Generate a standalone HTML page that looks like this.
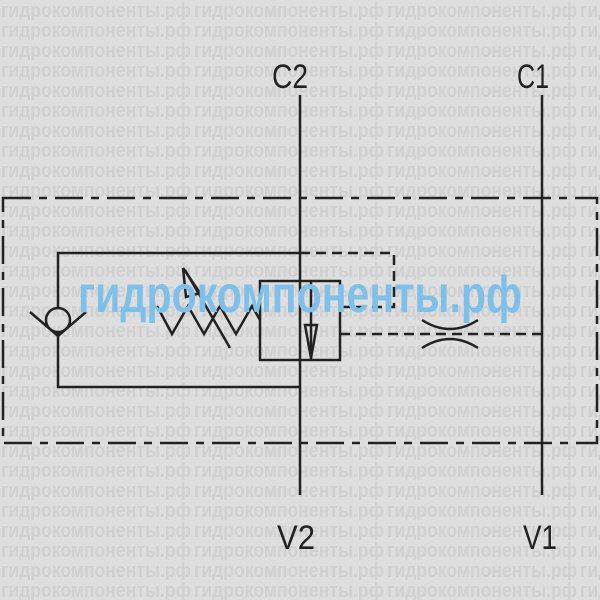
<!DOCTYPE html>
<html><head><style>body{margin:0;background:#dedede}svg{display:block}</style></head><body>
<svg width="600" height="600" viewBox="0 0 600 600" xmlns="http://www.w3.org/2000/svg" font-family="Liberation Sans, sans-serif">
<defs>
<pattern id="wm" x="0" y="0" width="193" height="20" patternUnits="userSpaceOnUse">
<rect width="193" height="20" fill="#dedede"/>
<text x="1" y="17" fill="#d0d0d0" font-weight="bold" font-size="20" textLength="190" lengthAdjust="spacingAndGlyphs">гидрокомпоненты.рф</text>
</pattern>
</defs>
<rect width="600" height="600" fill="url(#wm)"/>
<g stroke="#222" stroke-width="2.5" fill="none">
<rect x="3" y="198" width="594" height="245" stroke-dasharray="28,8,8,8"/>
<line x1="300" y1="95" x2="300" y2="495"/>
<line x1="542" y1="95" x2="542" y2="495"/>
<polyline points="300,253 58,253 58,308"/>
<polyline points="58,333 58,387 300,387"/>
<circle cx="58" cy="320" r="12"/>
<polyline points="30,312 58,336 86,312"/>
<rect x="260" y="281" width="80" height="79"/>
<line x1="311" y1="281" x2="311" y2="360"/>
<polygon points="305,325 317,325 311,358"/>
<polyline points="157,306 172,334 188,306 204,334 220,306 236,334 252,306 260,320"/>
<line x1="230" y1="348" x2="185" y2="270"/>
<polyline points="183,268 186,297 200,293 183,268"/>
<polyline points="300,253 394,253 394,307 340,307" stroke-dasharray="10,6"/>
<line x1="340" y1="334" x2="542" y2="334" stroke-dasharray="10,6"/>
<path d="M422,320 Q450,338 478,320"/>
<path d="M422,348 Q450,330 478,348"/>
</g>
<text x="300" y="312" text-anchor="middle" fill="#7fc0ea" font-weight="bold" font-size="52" textLength="444" lengthAdjust="spacingAndGlyphs">гидрокомпоненты.рф</text>
<g fill="#222" font-size="34" text-anchor="middle">
<text x="290" y="88" textLength="36" lengthAdjust="spacingAndGlyphs">C2</text>
<text x="533" y="88" textLength="32" lengthAdjust="spacingAndGlyphs">C1</text>
<text x="296" y="549" textLength="38" lengthAdjust="spacingAndGlyphs">V2</text>
<text x="540" y="549" textLength="34" lengthAdjust="spacingAndGlyphs">V1</text>
</g>
</svg>
</body></html>
